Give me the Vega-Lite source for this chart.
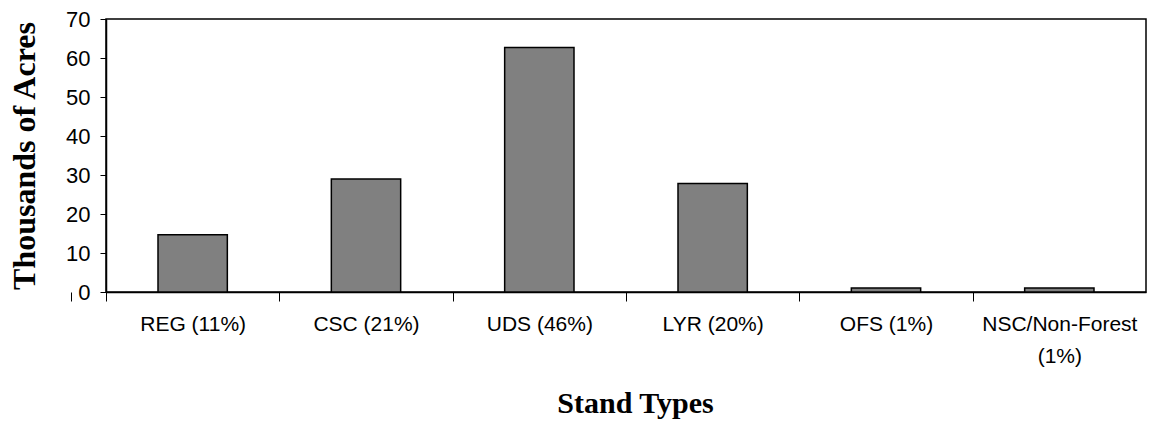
{
  "$schema": "https://vega.github.io/schema/vega-lite/v6.json",
  "width": 1040,
  "height": 273,
  "autosize": "none",
  "padding": {"left": 106, "top": 19, "right": 7, "bottom": 138},
  "background": "white",
  "config": {
    "view": {"stroke": "black", "strokeWidth": 1.5},
    "axis": {"grid": false, "domainColor": "black", "tickColor": "black", "labelColor": "black", "titleColor": "black", "labelFont": "Liberation Sans", "titleFont": "Liberation Serif"}
  },
  "data": {
    "values": [
      {"stand": "REG (11%)", "acres": 14.7},
      {"stand": "CSC (21%)", "acres": 29},
      {"stand": "UDS (46%)", "acres": 62.7},
      {"stand": "LYR (20%)", "acres": 27.8},
      {"stand": "OFS (1%)", "acres": 1},
      {"stand": "NSC/Non-Forest (1%)", "acres": 1}
    ]
  },
  "mark": {"type": "bar", "fill": "#808080", "stroke": "black", "strokeWidth": 1.5},
  "encoding": {
    "x": {
      "field": "stand", "type": "nominal", "sort": null,
      "scale": {"paddingInner": 0.6, "paddingOuter": 0.3},
      "axis": {
        "title": "Stand Types", "titleFontSize": 30, "titleFontWeight": "bold", "titlePadding": 22, "titleX": 529,
        "labelAngle": 0, "labelFontSize": 21, "labelPadding": 12, "labelLineHeight": 32,
        "labelExpr": "datum.value == 'NSC/Non-Forest (1%)' ? ['NSC/Non-Forest', '(1%)'] : datum.value",
        "tickOffset": -86.67, "labelOffset": 86.67, "tickExtra": true,
        "tickSize": 9, "tickWidth": 1, "domainWidth": 1.5
      }
    },
    "y": {
      "field": "acres", "type": "quantitative",
      "scale": {"domain": [0, 70], "nice": false},
      "axis": {
        "title": "Thousands of Acres", "titleFontSize": 32, "titleFontWeight": "bold", "titlePadding": 24,
        "values": [0, 10, 20, 30, 40, 50, 60, 70],
        "labelFontSize": 22, "labelPadding": 10, "tickSize": 6, "tickWidth": 1, "domainWidth": 1.5
      }
    }
  }
}
